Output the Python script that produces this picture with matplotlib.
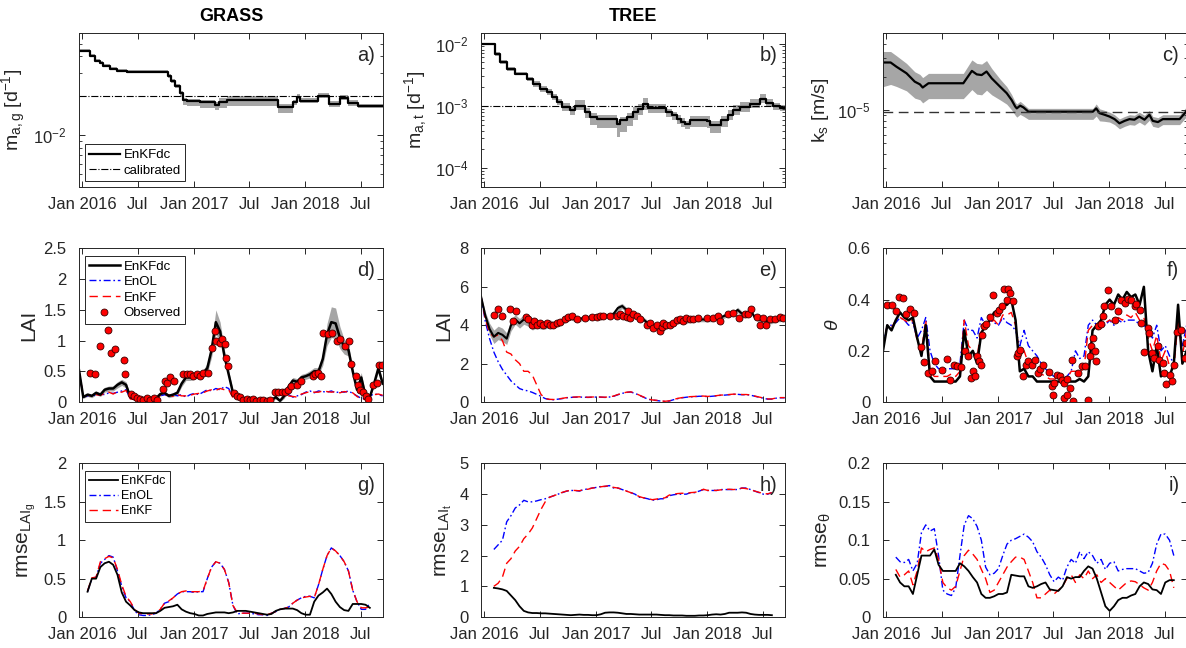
import numpy as np
import pandas as pd
import matplotlib
matplotlib.use('Agg')
import matplotlib.pyplot as plt
from matplotlib.ticker import FuncFormatter, LogLocator, NullFormatter
from matplotlib.lines import Line2D

plt.rcParams['font.family'] = ['Liberation Sans', 'DejaVu Sans']
plt.rcParams['mathtext.fontset'] = 'custom'
plt.rcParams['mathtext.rm'] = 'Liberation Sans'
plt.rcParams['mathtext.it'] = 'Liberation Sans:italic'
plt.rcParams['mathtext.bf'] = 'Liberation Sans:bold'

nan = np.nan

# ---------------- data ----------------
# 14-day grid used by the LAI / theta / rmse series
grid = pd.date_range('2015-12-22', periods=72, freq='14D')

# a) grass mortality parameter (step series)
ma_g_dates = ['2015-12-22', '2016-01-27', '2016-02-12', '2016-02-28', '2016-03-10', '2016-04-02',
              '2016-04-25', '2016-05-28', '2016-10-08', '2016-10-18', '2016-11-01', '2016-11-17',
              '2016-11-27', '2016-12-10', '2017-01-21', '2017-03-12', '2017-03-25', '2017-04-18',
              '2017-10-05', '2017-11-22', '2017-12-03', '2017-12-16', '2018-02-10', '2018-03-18',
              '2018-04-26', '2018-05-22', '2018-06-22', '2018-09-12']
ma_g_vals = [0.0443, 0.0405, 0.0371, 0.0358, 0.0340, 0.0322, 0.0310, 0.0305, 0.0284, 0.0260,
             0.0238, 0.0210, 0.0186, 0.0183, 0.0180, 0.0170, 0.0180, 0.0186, 0.0164, 0.0178,
             0.0196, 0.0183, 0.0200, 0.0173, 0.0193, 0.0176, 0.0167, 0.0167]
ma_g_hi = [0.012, 0.012, 0.012, 0.012, 0.012, 0.012, 0.012, 0.012, 0.015, 0.015, 0.015, 0.015,
           0.015, 0.015, 0.015, 0.02, 0.03, 0.03, 0.02, 0.02, 0.025, 0.02, 0.02, 0.02,
           0.02, 0.02, 0.015, 0.015]
ma_g_lo = [0.012, 0.012, 0.012, 0.012, 0.012, 0.012, 0.012, 0.012, 0.015, 0.015, 0.02, 0.03,
           0.04, 0.04, 0.045, 0.04, 0.05, 0.05, 0.045, 0.02, 0.02, 0.02, 0.02, 0.02,
           0.02, 0.02, 0.015, 0.015]
ma_g_cal = 0.02

# b) tree mortality parameter (step series)
ma_t_dates = ['2015-12-22', '2016-02-05', '2016-02-22', '2016-03-15', '2016-04-10', '2016-05-19',
              '2016-06-10', '2016-07-02', '2016-07-24', '2016-08-10', '2016-08-26', '2016-09-12',
              '2016-10-09', '2016-10-25', '2016-11-27', '2016-12-13', '2017-01-04', '2017-03-10',
              '2017-03-21', '2017-04-12', '2017-05-04', '2017-05-20', '2017-06-05', '2017-06-22',
              '2017-08-20', '2017-09-06', '2017-09-22', '2017-10-08', '2017-10-19', '2017-11-04',
              '2017-12-29', '2018-01-09', '2018-02-16', '2018-03-09', '2018-03-25', '2018-04-17',
              '2018-05-19', '2018-06-21', '2018-07-13', '2018-08-03', '2018-08-25', '2018-09-12']
ma_t_vals = [1.0e-2, 6.84e-3, 5.0e-3, 3.9e-3, 3.3e-3, 2.7e-3, 2.26e-3, 1.88e-3, 1.66e-3, 1.38e-3,
             1.15e-3, 9.6e-4, 8.5e-4, 1.0e-3, 7.96e-4, 6.6e-4, 6.2e-4, 5.06e-4, 5.86e-4, 6.6e-4,
             7.96e-4, 9.0e-4, 1.07e-3, 9.3e-4, 7.96e-4, 7.05e-4, 6.2e-4, 5.5e-4, 5.06e-4, 5.86e-4,
             5.75e-4, 4.88e-4, 5.86e-4, 7.05e-4, 8.5e-4, 9.6e-4, 1.08e-3, 1.3e-3, 1.11e-3, 9.8e-4,
             9.35e-4, 9.35e-4]
ma_t_hi = [0.01, 0.03, 0.03, 0.03, 0.03, 0.03, 0.05, 0.05, 0.05, 0.05, 0.05, 0.06,
           0.06, 0.1, 0.06, 0.06, 0.06, 0.06, 0.06, 0.06, 0.08, 0.08, 0.1, 0.06,
           0.05, 0.05, 0.06, 0.06, 0.06, 0.07, 0.07, 0.07, 0.07, 0.08, 0.08, 0.08,
           0.08, 0.07, 0.06, 0.05, 0.05, 0.05]
ma_t_lo = [0.01, 0.03, 0.03, 0.03, 0.03, 0.03, 0.05, 0.05, 0.05, 0.05, 0.05, 0.06,
           0.08, 0.06, 0.1, 0.12, 0.15, 0.2, 0.18, 0.15, 0.12, 0.1, 0.1, 0.08,
           0.08, 0.08, 0.08, 0.08, 0.08, 0.1, 0.12, 0.12, 0.1, 0.08, 0.08, 0.08,
           0.06, 0.06, 0.06, 0.05, 0.05, 0.05]
ma_t_cal = 1.0e-3

# c) saturated conductivity
ks_dates = ['2015-12-22', '2016-01-16', '2016-02-04', '2016-03-08', '2016-04-04', '2016-04-21',
            '2016-04-30', '2016-05-19', '2016-09-10', '2016-10-08', '2016-10-24', '2016-11-09',
            '2016-11-25', '2016-12-12', '2017-01-08', '2017-01-30', '2017-02-15', '2017-02-27',
            '2017-03-04', '2017-03-15', '2017-03-26', '2017-04-11', '2017-11-08', '2017-11-19',
            '2017-11-30', '2017-12-16', '2018-01-02', '2018-01-18', '2018-02-03', '2018-02-20',
            '2018-03-08', '2018-03-24', '2018-04-09', '2018-04-26', '2018-05-12', '2018-05-23',
            '2018-06-09', '2018-06-25', '2018-08-19', '2018-09-12']
ks_vals = [2.72e-5, 2.72e-5, 2.49e-5, 2.17e-5, 1.82e-5, 1.72e-5, 1.61e-5, 1.76e-5, 1.76e-5, 2.28e-5,
           2.12e-5, 2.09e-5, 2.25e-5, 1.95e-5, 1.64e-5, 1.43e-5, 1.24e-5, 1.08e-5, 1.04e-5, 1.10e-5,
           1.06e-5, 9.7e-6, 9.7e-6, 1.04e-5, 9.4e-6, 9.1e-6, 8.75e-6, 8.3e-6, 7.6e-6, 8.0e-6,
           8.3e-6, 8.2e-6, 8.75e-6, 8.2e-6, 9.1e-6, 8.0e-6, 7.8e-6, 8.3e-6, 8.3e-6, 9.9e-6]
ks_hi = [0.1, 0.1, 0.1, 0.09, 0.09, 0.09, 0.09, 0.09, 0.09, 0.1, 0.1, 0.1,
         0.1, 0.09, 0.07, 0.06, 0.05, 0.04, 0.04, 0.04, 0.03, 0.03, 0.03, 0.04,
         0.04, 0.04, 0.04, 0.04, 0.04, 0.04, 0.04, 0.04, 0.04, 0.04, 0.04, 0.04,
         0.04, 0.04, 0.04, 0.04]
ks_lo = [0.22, 0.2, 0.18, 0.16, 0.15, 0.14, 0.14, 0.14, 0.14, 0.17, 0.18, 0.18,
         0.17, 0.15, 0.12, 0.1, 0.09, 0.08, 0.08, 0.08, 0.08, 0.07, 0.07, 0.07,
         0.07, 0.06, 0.05, 0.05, 0.05, 0.05, 0.05, 0.05, 0.05, 0.05, 0.05, 0.05,
         0.05, 0.05, 0.05, 0.05]
ks_cal = 9.6e-6

# d) grass LAI
lai_g_enkfdc = [0.52, 0.08, 0.12, 0.10, 0.15, 0.12, 0.20, 0.22, 0.22, 0.28, 0.32, 0.28,
                0.08, 0.05, 0.04, 0.04, 0.04, 0.05, 0.06, 0.13, 0.15, 0.10, 0.12, 0.15,
                0.30, 0.40, 0.40, 0.42, 0.45, 0.47, 0.55, 0.85, 1.30, 1.15, 0.75, 0.45,
                0.15, 0.08, 0.06, 0.05, 0.04, 0.04, 0.03, 0.03, 0.02, 0.03, 0.08, 0.02,
                0.10, 0.25, 0.35, 0.33, 0.40, 0.42, 0.45, 0.50, 0.50, 0.70, 1.10, 1.30,
                1.28, 1.05, 0.90, 0.85, 0.50, 0.20, 0.40, 0.10, 0.08, 0.30, 0.55, 0.30]
lai_g_spread = [0.03, 0.02, 0.03, 0.03, 0.03, 0.03, 0.04, 0.04, 0.04, 0.05, 0.05, 0.05,
                0.03, 0.02, 0.02, 0.02, 0.02, 0.02, 0.02, 0.03, 0.03, 0.03, 0.03, 0.04,
                0.05, 0.05, 0.05, 0.05, 0.05, 0.05, 0.08, 0.12, 0.20, 0.15, 0.10, 0.06,
                0.04, 0.02, 0.02, 0.02, 0.02, 0.02, 0.02, 0.02, 0.02, 0.02, 0.03, 0.02,
                0.04, 0.05, 0.05, 0.05, 0.05, 0.05, 0.06, 0.06, 0.06, 0.10, 0.18, 0.25,
                0.25, 0.18, 0.12, 0.10, 0.06, 0.05, 0.08, 0.03, 0.02, 0.04, 0.06, 0.05]
lai_g_enol = [0.52, 0.08, 0.10, 0.12, 0.10, 0.13, 0.12, 0.15, 0.14, 0.16, 0.18, 0.20,
              0.06, 0.05, 0.05, 0.05, 0.05, 0.05, 0.06, 0.10, 0.12, 0.10, 0.13, 0.10,
              0.12, 0.08, 0.12, 0.14, 0.12, 0.16, 0.20, 0.18, 0.22, 0.20, 0.25, 0.22,
              0.08, 0.06, 0.05, 0.05, 0.04, 0.03, 0.03, 0.02, 0.03, 0.04, 0.12, 0.13,
              0.10, 0.12, 0.08, 0.10, 0.12, 0.16, 0.18, 0.15, 0.18, 0.17, 0.16, 0.18,
              0.15, 0.17, 0.16, 0.18, 0.14, 0.10, 0.06, 0.05, 0.10, 0.13, 0.12, 0.10]
lai_g_enkf = [0.52, 0.09, 0.11, 0.10, 0.12, 0.11, 0.14, 0.16, 0.13, 0.17, 0.16, 0.19,
              0.05, 0.04, 0.05, 0.04, 0.05, 0.04, 0.05, 0.11, 0.10, 0.12, 0.09, 0.12,
              0.10, 0.10, 0.11, 0.13, 0.14, 0.15, 0.18, 0.20, 0.19, 0.22, 0.20, 0.20,
              0.07, 0.05, 0.06, 0.04, 0.04, 0.03, 0.02, 0.03, 0.02, 0.05, 0.10, 0.12,
              0.11, 0.10, 0.09, 0.08, 0.13, 0.15, 0.17, 0.16, 0.16, 0.18, 0.17, 0.16,
              0.17, 0.15, 0.17, 0.16, 0.15, 0.09, 0.05, 0.04, 0.09, 0.12, 0.13, 0.11]
obs_g_dates = ['2016-01-27', '2016-02-12', '2016-02-29', '2016-03-27', '2016-04-04', '2016-04-18',
               '2016-05-16', '2016-05-21', '2016-06-10', '2016-06-18', '2016-06-29', '2016-07-09',
               '2016-07-20', '2016-07-31', '2016-08-11', '2016-08-22', '2016-09-02', '2016-09-23',
               '2016-09-29', '2016-10-04', '2016-10-15', '2016-10-28', '2016-11-27', '2016-12-08',
               '2016-12-19', '2016-12-30', '2017-01-10', '2017-01-21', '2017-02-01', '2017-02-17',
               '2017-02-28', '2017-03-11', '2017-03-14', '2017-03-27', '2017-04-02', '2017-04-13',
               '2017-04-16', '2017-04-24', '2017-05-11', '2017-05-21', '2017-06-01', '2017-06-12',
               '2017-06-23', '2017-07-03', '2017-07-14', '2017-07-25', '2017-08-05', '2017-08-16',
               '2017-08-27', '2017-09-07', '2017-09-23', '2017-10-04', '2017-10-15', '2017-10-26',
               '2017-11-05', '2017-11-16', '2017-12-03', '2017-12-19', '2018-01-26', '2018-02-01',
               '2018-02-12', '2018-02-22', '2018-02-28', '2018-03-16', '2018-03-30', '2018-04-14',
               '2018-04-23', '2018-05-10', '2018-05-24', '2018-06-01', '2018-06-15', '2018-06-22',
               '2018-06-28', '2018-07-09', '2018-07-20', '2018-07-25', '2018-08-11', '2018-08-22',
               '2018-08-31', '2018-09-08']
obs_g_vals = [0.48, 0.45, 0.91, 1.17, 0.79, 0.86, 0.69, 0.46, 0.13, 0.09, 0.07, 0.05,
              0.04, 0.06, 0.04, 0.06, 0.03, 0.22, 0.35, 0.31, 0.40, 0.35, 0.46, 0.45,
              0.45, 0.43, 0.45, 0.43, 0.47, 0.47, 0.88, 1.15, 0.99, 0.96, 1.02, 0.95,
              0.72, 0.58, 0.15, 0.10, 0.08, 0.04, 0.05, 0.03, 0.05, 0.02, 0.03, 0.04,
              0.02, 0.04, 0.17, 0.16, 0.16, 0.17, 0.20, 0.26, 0.28, 0.35, 0.42, 0.45,
              0.47, 0.42, 1.12, 1.11, 1.12, 0.99, 1.02, 0.91, 0.99, 0.62, 0.42, 0.28,
              0.20, 0.16, 0.09, 0.05, 0.28, 0.31, 0.60, 0.60]

# e) tree LAI
lai_t_enkfdc = [5.5, 4.5, 3.8, 3.4, 3.6, 3.5, 3.3, 4.0, 4.3, 4.1, 4.3, 4.2,
                4.0, 4.1, 4.0, 4.0, 4.1, 4.0, 4.1, 4.2, 4.3, 4.4, 4.3, 4.3,
                4.4, 4.4, 4.4, 4.5, 4.4, 4.5, 4.5, 4.6, 4.9, 5.0, 4.8, 4.6,
                4.5, 4.4, 4.3, 4.1, 4.0, 3.9, 3.8, 3.9, 4.0, 4.1, 4.2, 4.2,
                4.2, 4.3, 4.3, 4.3, 4.3, 4.3, 4.3, 4.4, 4.4, 4.5, 4.6, 4.6,
                4.8, 4.6, 4.6, 4.8, 4.4, 4.3, 4.3, 4.2, 4.2, 4.3, 4.3, 4.4]
lai_t_spread = [0.05, 0.2, 0.3, 0.35, 0.35, 0.35, 0.3, 0.3, 0.25, 0.25, 0.25, 0.25,
                0.25, 0.25, 0.2, 0.2, 0.2, 0.18, 0.15, 0.15, 0.12, 0.12, 0.12, 0.12,
                0.12, 0.12, 0.12, 0.12, 0.12, 0.12, 0.12, 0.12, 0.14, 0.14, 0.12, 0.12,
                0.12, 0.12, 0.12, 0.14, 0.14, 0.15, 0.15, 0.14, 0.12, 0.12, 0.12, 0.12,
                0.12, 0.12, 0.12, 0.12, 0.12, 0.12, 0.12, 0.12, 0.12, 0.12, 0.12, 0.12,
                0.14, 0.12, 0.12, 0.14, 0.12, 0.12, 0.12, 0.12, 0.12, 0.12, 0.12, 0.12]
lai_t_enol = [5.5, 4.2, 3.3, 2.6, 2.1, 1.7, 1.4, 1.1, 0.9, 0.7, 0.62, 0.58,
              0.5, 0.4, 0.3, 0.18, 0.13, 0.12, 0.15, 0.18, 0.22, 0.24, 0.25, 0.26,
              0.25, 0.24, 0.25, 0.26, 0.25, 0.24, 0.26, 0.3, 0.38, 0.45, 0.5, 0.52,
              0.45, 0.35, 0.25, 0.15, 0.1, 0.08, 0.05, 0.03, 0.05, 0.12, 0.18, 0.22,
              0.25, 0.27, 0.28, 0.3, 0.3, 0.28, 0.3, 0.32, 0.35, 0.36, 0.38, 0.4,
              0.4, 0.38, 0.38, 0.36, 0.3, 0.25, 0.2, 0.15, 0.15, 0.2, 0.22, 0.22]
lai_t_enkf = [5.5, 4.3, 3.6, 3.4, 3.5, 3.2, 2.6, 2.5, 2.2, 2.0, 1.6, 1.6,
              1.4, 0.9, 0.4, 0.18, 0.14, 0.13, 0.16, 0.19, 0.23, 0.25, 0.26, 0.27,
              0.26, 0.25, 0.26, 0.27, 0.26, 0.25, 0.27, 0.31, 0.39, 0.46, 0.51, 0.53,
              0.46, 0.36, 0.26, 0.16, 0.11, 0.09, 0.06, 0.04, 0.06, 0.13, 0.19, 0.23,
              0.26, 0.28, 0.29, 0.31, 0.31, 0.29, 0.31, 0.33, 0.36, 0.37, 0.39, 0.41,
              0.41, 0.39, 0.39, 0.37, 0.31, 0.26, 0.21, 0.16, 0.16, 0.21, 0.23, 0.23]
obs_t_dates = ['2016-02-04', '2016-02-17', '2016-03-01', '2016-03-26', '2016-04-04', '2016-04-15',
               '2016-05-18', '2016-05-23', '2016-06-05', '2016-06-11', '2016-06-22', '2016-07-02',
               '2016-07-13', '2016-07-24', '2016-08-04', '2016-08-15', '2016-08-26', '2016-09-06',
               '2016-09-22', '2016-10-03', '2016-10-14', '2016-10-30', '2016-11-27', '2016-12-18',
               '2017-01-03', '2017-01-14', '2017-01-25', '2017-02-16', '2017-03-10', '2017-03-21',
               '2017-04-01', '2017-04-12', '2017-04-17', '2017-04-23', '2017-05-04', '2017-05-15',
               '2017-05-25', '2017-06-16', '2017-06-27', '2017-07-08', '2017-07-19', '2017-07-30',
               '2017-08-04', '2017-08-10', '2017-08-20', '2017-08-31', '2017-09-11', '2017-09-22',
               '2017-10-03', '2017-10-13', '2017-10-24', '2017-11-04', '2017-11-15', '2017-12-01',
               '2017-12-29', '2018-01-20', '2018-02-05', '2018-02-10', '2018-03-09', '2018-03-25',
               '2018-04-16', '2018-05-03', '2018-05-14', '2018-05-25', '2018-06-11', '2018-06-22',
               '2018-07-03', '2018-07-13', '2018-07-24', '2018-08-09', '2018-08-25', '2018-09-06']
obs_t_vals = [4.54, 4.82, 4.50, 4.85, 4.20, 4.73, 4.43, 4.30, 4.03, 4.20, 4.00, 4.12,
              4.03, 4.12, 4.00, 4.03, 4.12, 4.15, 4.33, 4.43, 4.50, 4.30, 4.38, 4.43,
              4.43, 4.50, 4.47, 4.50, 4.47, 4.56, 4.50, 4.43, 4.73, 4.38, 4.60, 4.47,
              4.33, 4.03, 4.12, 3.86, 4.00, 3.69, 3.90, 4.12, 4.00, 4.03, 4.12, 4.26,
              4.30, 4.20, 4.38, 4.30, 4.33, 4.38, 4.38, 4.38, 4.47, 4.20, 4.60, 4.64,
              4.38, 4.56, 4.60, 4.85, 4.43, 4.03, 4.38, 4.00, 4.30, 4.33, 4.43, 4.38]

# f) soil moisture
sm_enkfdc = [0.20, 0.30, 0.28, 0.32, 0.35, 0.33, 0.32, 0.33, 0.25, 0.18, 0.30, 0.10,
             0.08, 0.08, 0.08, 0.08, 0.08, 0.08, 0.10, 0.28, 0.18, 0.20, 0.15, 0.27,
             0.30, 0.32, 0.35, 0.36, 0.38, 0.38, 0.40, 0.32, 0.12, 0.13, 0.10, 0.10,
             0.08, 0.08, 0.08, 0.08, 0.08, 0.08, 0.08, 0.08, 0.08, 0.08, 0.09, 0.08,
             0.10, 0.28, 0.30, 0.32, 0.38, 0.40, 0.38, 0.42, 0.40, 0.43, 0.41, 0.42,
             0.38, 0.45, 0.20, 0.12, 0.22, 0.10, 0.12, 0.10, 0.15, 0.38, 0.15, 0.20]
sm_enol = [0.22, 0.30, 0.30, 0.31, 0.33, 0.32, 0.30, 0.31, 0.25, 0.28, 0.33, 0.20,
           0.15, 0.13, 0.13, 0.13, 0.13, 0.13, 0.15, 0.32, 0.28, 0.28, 0.25, 0.33,
           0.30, 0.32, 0.31, 0.30, 0.33, 0.31, 0.30, 0.28, 0.22, 0.28, 0.22, 0.20,
           0.18, 0.15, 0.13, 0.11, 0.10, 0.10, 0.09, 0.10, 0.12, 0.20, 0.17, 0.18,
           0.30, 0.32, 0.30, 0.30, 0.30, 0.32, 0.30, 0.32, 0.31, 0.32, 0.32, 0.32,
           0.30, 0.30, 0.28, 0.25, 0.30, 0.20, 0.22, 0.18, 0.15, 0.33, 0.22, 0.30]
sm_enkf = [0.22, 0.30, 0.29, 0.32, 0.33, 0.32, 0.31, 0.32, 0.24, 0.20, 0.32, 0.12,
           0.10, 0.10, 0.10, 0.10, 0.11, 0.10, 0.12, 0.32, 0.22, 0.20, 0.17, 0.30,
           0.30, 0.31, 0.32, 0.30, 0.34, 0.34, 0.35, 0.30, 0.18, 0.20, 0.15, 0.14,
           0.13, 0.11, 0.10, 0.09, 0.09, 0.09, 0.08, 0.09, 0.12, 0.12, 0.12, 0.13,
           0.28, 0.30, 0.30, 0.32, 0.31, 0.32, 0.31, 0.33, 0.32, 0.34, 0.33, 0.35,
           0.32, 0.33, 0.25, 0.20, 0.26, 0.16, 0.20, 0.14, 0.13, 0.32, 0.18, 0.28]
obs_sm_dates = ['2016-01-05', '2016-01-19', '2016-02-02', '2016-02-12', '2016-02-24', '2016-03-06',
                '2016-03-19', '2016-04-01', '2016-04-23', '2016-05-05', '2016-05-18', '2016-05-29',
                '2016-06-09', '2016-07-03', '2016-07-17', '2016-07-28', '2016-08-10', '2016-08-21',
                '2016-09-04', '2016-09-16', '2016-09-24', '2016-10-05', '2016-10-13', '2016-10-18',
                '2016-10-24', '2016-11-01', '2016-11-06', '2016-11-09', '2016-11-16', '2016-11-23',
                '2016-12-06', '2016-12-17', '2016-12-28', '2017-01-06', '2017-01-13', '2017-01-21',
                '2017-01-30', '2017-02-04', '2017-02-10', '2017-02-21', '2017-03-04', '2017-03-09',
                '2017-03-15', '2017-03-24', '2017-04-04', '2017-04-11', '2017-04-22', '2017-05-03',
                '2017-05-11', '2017-05-19', '2017-05-30', '2017-06-16', '2017-06-27', '2017-06-29',
                '2017-07-04', '2017-07-13', '2017-07-24', '2017-07-29', '2017-08-04', '2017-08-07',
                '2017-08-15', '2017-08-17', '2017-08-25', '2017-08-31', '2017-09-05', '2017-09-21',
                '2017-10-02', '2017-10-13', '2017-10-23', '2017-10-29', '2017-11-03', '2017-11-08',
                '2017-11-14', '2017-11-19', '2017-11-25', '2017-12-06', '2017-12-11', '2017-12-16',
                '2017-12-27', '2018-01-08', '2018-01-18', '2018-01-29', '2018-02-09', '2018-02-20',
                '2018-03-03', '2018-03-14', '2018-03-25', '2018-03-30', '2018-04-10', '2018-04-15',
                '2018-04-26', '2018-05-07', '2018-05-12', '2018-05-21', '2018-05-28', '2018-06-08',
                '2018-06-14', '2018-06-25', '2018-06-30', '2018-07-06', '2018-07-17', '2018-07-25',
                '2018-08-02', '2018-08-11', '2018-08-22', '2018-09-04', '2018-09-08']
obs_sm_vals = [0.378, 0.378, 0.355, 0.410, 0.406, 0.342, 0.364, 0.346, 0.214, 0.157, 0.113, 0.123,
               0.159, 0.127, 0.170, 0.085, 0.143, 0.140, 0.137, 0.198, 0.179, 0.094, 0.120, 0.100,
               0.179, 0.159, 0.146, 0.263, 0.296, 0.303, 0.331, 0.417, 0.346, 0.361, 0.374, 0.443,
               0.400, 0.443, 0.427, 0.394, 0.179, 0.192, 0.205, 0.100, 0.146, 0.159, 0.146, 0.163,
               0.113, 0.129, 0.146, 0.117, 0.064, 0.029, 0.074, 0.107, 0.100, 0.085, 0.016, 0.074,
               0.090, 0.026, 0.055, 0.163, 0.005, 0.113, 0.140, 0.140, 0.009, 0.179, 0.218, 0.250,
               0.198, 0.159, 0.296, 0.303, 0.335, 0.374, 0.436, 0.374, 0.322, 0.355, 0.400, 0.387,
               0.403, 0.400, 0.374, 0.383, 0.361, 0.309, 0.194, 0.290, 0.270, 0.192, 0.172, 0.218,
               0.166, 0.153, 0.113, 0.072, 0.107, 0.081, 0.146, 0.273, 0.283, 0.172, 0.230]

# g) rmse grass LAI
rmse_g_enkfdc = [nan, nan, 0.33, 0.50, 0.50, 0.65, 0.70, 0.72, 0.68, 0.55, 0.32, 0.20,
                 0.15, 0.09, 0.06, 0.05, 0.05, 0.05, 0.05, 0.08, 0.12, 0.13, 0.14, 0.16,
                 0.10, 0.07, 0.05, 0.04, 0.02, 0.02, 0.04, 0.05, 0.06, 0.06, 0.06, 0.05,
                 0.06, 0.08, 0.08, 0.08, 0.07, 0.06, 0.05, 0.04, 0.03, 0.04, 0.08, 0.10,
                 0.11, 0.11, 0.11, 0.09, 0.05, 0.03, 0.03, 0.20, 0.28, 0.32, 0.37, 0.30,
                 0.20, 0.13, 0.09, 0.08, 0.17, 0.17, 0.17, 0.16, 0.12, nan, nan, nan]
rmse_g_enol = [nan, nan, 0.33, 0.50, 0.52, 0.70, 0.75, 0.80, 0.78, 0.60, 0.40, 0.25,
               0.20, 0.08, 0.03, 0.02, 0.02, 0.03, 0.05, 0.10, 0.18, 0.20, 0.25, 0.30,
               0.33, 0.33, 0.33, 0.32, 0.33, 0.33, 0.50, 0.65, 0.72, 0.70, 0.62, 0.45,
               0.15, 0.04, 0.05, 0.05, 0.05, 0.04, 0.03, 0.03, 0.02, 0.05, 0.07, 0.10,
               0.11, 0.13, 0.18, 0.22, 0.25, 0.27, 0.27, 0.25, 0.42, 0.62, 0.80, 0.90,
               0.86, 0.80, 0.72, 0.60, 0.35, 0.20, 0.10, 0.10, 0.18, nan, nan, nan]
rmse_g_enkf = [nan, nan, 0.34, 0.51, 0.52, 0.72, 0.76, 0.79, 0.77, 0.62, 0.42, 0.27,
               0.20, 0.10, 0.05, 0.04, 0.04, 0.04, 0.06, 0.10, 0.18, 0.21, 0.25, 0.30,
               0.33, 0.34, 0.33, 0.33, 0.33, 0.34, 0.50, 0.65, 0.72, 0.70, 0.62, 0.45,
               0.15, 0.06, 0.05, 0.05, 0.05, 0.05, 0.04, 0.03, 0.03, 0.05, 0.07, 0.10,
               0.11, 0.13, 0.18, 0.22, 0.25, 0.26, 0.27, 0.25, 0.42, 0.62, 0.80, 0.90,
               0.86, 0.80, 0.72, 0.60, 0.35, 0.20, 0.12, 0.12, 0.13, nan, nan, nan]

# h) rmse tree LAI
rmse_t_enkfdc = [nan, nan, nan, 0.95, 0.93, 0.90, 0.85, 0.70, 0.55, 0.35, 0.20, 0.15,
                 0.13, 0.13, 0.12, 0.12, 0.11, 0.10, 0.09, 0.08, 0.07, 0.06, 0.07, 0.08,
                 0.07, 0.07, 0.06, 0.06, 0.09, 0.14, 0.15, 0.15, 0.14, 0.12, 0.10, 0.10,
                 0.09, 0.08, 0.08, 0.08, 0.08, 0.08, 0.07, 0.06, 0.06, 0.05, 0.05, 0.05,
                 0.04, 0.04, 0.04, 0.05, 0.05, 0.06, 0.08, 0.09, 0.08, 0.10, 0.14, 0.14,
                 0.14, 0.15, 0.14, 0.10, 0.08, 0.07, 0.07, 0.07, 0.06, nan, nan, nan]
rmse_t_enol = [nan, nan, nan, 2.20, 2.35, 2.50, 3.10, 3.30, 3.55, 3.65, 3.80, 3.75,
               3.75, 3.78, 3.82, 3.85, 3.90, 3.95, 4.00, 4.05, 4.10, 4.12, 4.12, 4.10,
               4.15, 4.17, 4.20, 4.22, 4.25, 4.25, 4.28, 4.20, 4.20, 4.15, 4.10, 4.05,
               4.00, 3.90, 3.88, 3.85, 3.80, 3.82, 3.85, 3.85, 3.95, 3.98, 4.00, 4.00,
               4.00, 4.05, 4.05, 4.10, 4.15, 4.12, 4.12, 4.12, 4.15, 4.15, 4.15, 4.15,
               4.15, 4.20, 4.20, 4.15, 4.10, 4.05, 4.00, 4.00, 4.05, nan, nan, nan]
rmse_t_enkf = [nan, nan, nan, 1.00, 1.10, 1.30, 1.75, 1.90, 2.15, 2.30, 2.55, 2.70,
               2.90, 3.20, 3.50, 3.75, 3.90, 3.95, 4.00, 4.06, 4.10, 4.13, 4.12, 4.11,
               4.15, 4.16, 4.20, 4.22, 4.24, 4.26, 4.27, 4.22, 4.20, 4.16, 4.10, 4.05,
               4.00, 3.92, 3.88, 3.86, 3.82, 3.84, 3.86, 3.88, 3.97, 4.00, 4.02, 4.03,
               4.02, 4.05, 4.06, 4.10, 4.16, 4.12, 4.13, 4.12, 4.14, 4.15, 4.16, 4.15,
               4.16, 4.20, 4.18, 4.15, 4.10, 4.06, 4.02, 4.01, 4.05, nan, nan, nan]

# i) rmse soil moisture
rmse_sm_enkfdc = [nan, nan, nan, 0.055, 0.045, 0.040, 0.040, 0.030, 0.055, 0.080, 0.080, 0.080,
                  0.088, 0.068, 0.060, 0.060, 0.060, 0.060, 0.070, 0.066, 0.060, 0.052, 0.045, 0.030,
                  0.025, 0.025, 0.027, 0.030, 0.030, 0.032, 0.055, 0.054, 0.053, 0.053, 0.040, 0.038,
                  0.040, 0.043, 0.045, 0.036, 0.035, 0.034, 0.040, 0.052, 0.050, 0.052, 0.052, 0.060,
                  0.066, 0.063, 0.050, 0.032, 0.014, 0.008, 0.014, 0.022, 0.025, 0.025, 0.028, 0.030,
                  0.040, 0.045, 0.043, 0.036, 0.035, 0.030, 0.045, 0.048, 0.048, nan, nan, nan]
rmse_sm_enol = [nan, nan, nan, 0.078, 0.072, 0.071, 0.075, 0.060, 0.070, 0.110, 0.120, 0.112,
                0.115, 0.080, 0.035, 0.030, 0.028, 0.038, 0.080, 0.120, 0.132, 0.128, 0.118, 0.100,
                0.065, 0.055, 0.057, 0.063, 0.080, 0.095, 0.100, 0.102, 0.105, 0.108, 0.104, 0.098,
                0.085, 0.078, 0.068, 0.055, 0.046, 0.052, 0.048, 0.065, 0.075, 0.070, 0.085, 0.076,
                0.085, 0.080, 0.070, 0.075, 0.062, 0.070, 0.072, 0.060, 0.062, 0.063, 0.063, 0.063,
                0.060, 0.057, 0.058, 0.070, 0.095, 0.108, 0.108, 0.100, 0.080, nan, nan, nan]
rmse_sm_enkf = [nan, nan, nan, 0.062, 0.052, 0.055, 0.060, 0.042, 0.060, 0.090, 0.085, 0.088,
                0.090, 0.075, 0.045, 0.038, 0.035, 0.040, 0.060, 0.080, 0.087, 0.082, 0.075, 0.062,
                0.050, 0.032, 0.035, 0.045, 0.055, 0.065, 0.072, 0.078, 0.078, 0.075, 0.060, 0.045,
                0.025, 0.025, 0.030, 0.035, 0.030, 0.035, 0.040, 0.050, 0.055, 0.045, 0.055, 0.050,
                0.060, 0.050, 0.055, 0.045, 0.050, 0.045, 0.040, 0.035, 0.040, 0.045, 0.047, 0.046,
                0.042, 0.038, 0.035, 0.045, 0.060, 0.070, 0.068, 0.060, 0.038, nan, nan, nan]

xtick_dates = ['2016-01-01', '2016-07-01', '2017-01-01', '2017-07-01', '2018-01-01', '2018-07-01']
xtick_labels = ['Jan 2016', 'Jul', 'Jan 2017', 'Jul', 'Jan 2018', 'Jul']

# ---------------- styling ----------------
INK = '#262626'
BAND = '#a6a6a6'
BLUE = '#0000ff'
RED = '#ff0000'
DASH_BLUE = (5, 2, 1.2, 2)
DASH_RED = (6, 3.5)
MS = 5

fig = plt.figure(figsize=(11.86, 6.48), dpi=100)
lefts = [0.0666, 0.4056, 0.7445]
bottoms = [0.7114, 0.3796, 0.0478]
W, H = 0.2563, 0.2370
axs = [[fig.add_axes([l, b, W, H]) for l in lefts] for b in bottoms]


def style(ax, label):
    ax.set_xlim(pd.Timestamp('2015-12-22'), pd.Timestamp('2018-09-12'))
    ax.set_xticks(pd.to_datetime(xtick_dates))
    ax.set_xticklabels(xtick_labels)
    ax.tick_params(which='both', direction='in', top=True, right=True, colors=INK, labelsize=12)
    ax.tick_params(axis='x', which='major', pad=7)
    ax.tick_params(axis='y', which='major', pad=9)
    ax.tick_params(which='major', length=4, width=0.7)
    ax.tick_params(which='minor', length=2, width=0.6)
    for s in ax.spines.values():
        s.set_color(INK)
        s.set_linewidth(0.7)
    ax.text(0.975, 0.855, label, transform=ax.transAxes, ha='right', va='center',
            fontsize=14.5, color=INK)


def lin_y(ax, ticks):
    ax.set_ylim(ticks[0], ticks[-1])
    ax.set_yticks(ticks)
    ax.yaxis.set_major_formatter(FuncFormatter(lambda v, p: '%g' % v))


def log_y(ax, lo, hi):
    ax.set_yscale('log')
    ax.set_ylim(lo, hi)
    ax.yaxis.set_major_locator(LogLocator(base=10, numticks=10))
    ax.yaxis.set_minor_locator(LogLocator(base=10, subs=np.arange(2, 10), numticks=20))
    ax.yaxis.set_minor_formatter(NullFormatter())


def legend(ax, handles, loc, anchor, size):
    lg = ax.legend(handles=handles, loc=loc, bbox_to_anchor=anchor, fontsize=size,
                   frameon=True, fancybox=False, framealpha=1, edgecolor=INK,
                   handlelength=2.3, handletextpad=0.3, labelspacing=0.25,
                   borderpad=0.35, borderaxespad=0.2)
    lg.get_frame().set_linewidth(0.7)


# ---- a) ----
ax = axs[0][0]
t = pd.to_datetime(ma_g_dates)
v = np.array(ma_g_vals)
ax.fill_between(t, v / 10 ** np.array(ma_g_lo), v * 10 ** np.array(ma_g_hi), step='post',
                color=BAND, lw=0)
ax.step(t, v, where='post', color='k', lw=1.6)
ax.axhline(ma_g_cal, color='k', lw=0.8, ls='-.')
log_y(ax, 0.004, 0.06)
style(ax, 'a)')
ax.set_ylabel(r'$\mathregular{m_{a,g}\ [d^{-1}]}$', fontsize=14, color=INK)
ax.set_title('GRASS', fontsize=13, fontweight='bold', pad=9, color='k')
legend(ax, [Line2D([], [], color='k', lw=1.6, label='EnKFdc'),
            Line2D([], [], color='k', lw=0.8, ls='-.', label='calibrated')],
       'lower left', (0.01, 0.02), 9.5)

# ---- b) ----
ax = axs[0][1]
t = pd.to_datetime(ma_t_dates)
v = np.array(ma_t_vals)
ax.fill_between(t, v / 10 ** np.array(ma_t_lo), v * 10 ** np.array(ma_t_hi), step='post',
                color=BAND, lw=0)
ax.step(t, v, where='post', color='k', lw=1.6)
ax.axhline(ma_t_cal, color='k', lw=0.8, ls='-.')
log_y(ax, 5e-5, 1.45e-2)
style(ax, 'b)')
ax.set_ylabel(r'$\mathregular{m_{a,t}\ [d^{-1}]}$', fontsize=14, color=INK)
ax.set_title('TREE', fontsize=13, fontweight='bold', pad=9, color='k')

# ---- c) ----
ax = axs[0][2]
t = pd.to_datetime(ks_dates)
v = np.array(ks_vals)
ax.fill_between(t, v / 10 ** np.array(ks_lo), v * 10 ** np.array(ks_hi), color=BAND, lw=0)
ax.plot(t, v, color='k', lw=1.6)
ax.axhline(ks_cal, color='#333333', lw=1.0, dashes=(7, 4))
log_y(ax, 2e-6, 5e-5)
style(ax, 'c)')
ax.set_ylabel(r'$\mathregular{k_s\ [m/s]}$', fontsize=14, color=INK)

# ---- d) ----
ax = axs[1][0]
c = np.array(lai_g_enkfdc)
s = np.array(lai_g_spread)
ax.fill_between(grid, c - s, c + s, color=BAND, lw=0)
ax.plot(grid, lai_g_enol, color=BLUE, lw=1.0, dashes=DASH_BLUE)
ax.plot(grid, lai_g_enkf, color=RED, lw=1.0, dashes=DASH_RED)
ax.plot(grid, c, color='k', lw=1.8)
ax.plot(pd.to_datetime(obs_g_dates), obs_g_vals, 'o', ms=MS, mfc=RED, mec='#3a0000', mew=0.6)
lin_y(ax, [0, 0.5, 1, 1.5, 2, 2.5])
style(ax, 'd)')
ax.set_ylabel('LAI', fontsize=15, color=INK)
legend(ax, [Line2D([], [], color='k', lw=1.8, label='EnKFdc'),
            Line2D([], [], color=BLUE, lw=1.0, dashes=DASH_BLUE, label='EnOL'),
            Line2D([], [], color=RED, lw=1.0, dashes=DASH_RED, label='EnKF'),
            Line2D([], [], ls='none', marker='o', ms=MS, mfc=RED, mec='#3a0000', mew=0.6,
                   label='Observed')],
       'upper left', (0.01, 0.97), 9.5)

# ---- e) ----
ax = axs[1][1]
c = np.array(lai_t_enkfdc)
s = np.array(lai_t_spread)
ax.fill_between(grid, c - s, c + s, color=BAND, lw=0)
ax.plot(grid, lai_t_enol, color=BLUE, lw=1.0, dashes=DASH_BLUE)
ax.plot(grid, lai_t_enkf, color=RED, lw=1.0, dashes=DASH_RED)
ax.plot(grid, c, color='k', lw=1.5)
ax.plot(pd.to_datetime(obs_t_dates), obs_t_vals, 'o', ms=MS, mfc=RED, mec='#3a0000', mew=0.6)
lin_y(ax, [0, 2, 4, 6, 8])
style(ax, 'e)')
ax.set_ylabel('LAI', fontsize=15, color=INK)

# ---- f) ----
ax = axs[1][2]
ax.plot(grid, sm_enol, color=BLUE, lw=1.0, dashes=DASH_BLUE)
ax.plot(grid, sm_enkf, color=RED, lw=1.0, dashes=DASH_RED)
ax.plot(grid, sm_enkfdc, color='k', lw=1.8)
ax.plot(pd.to_datetime(obs_sm_dates), obs_sm_vals, 'o', ms=MS, mfc=RED, mec='#3a0000', mew=0.6)
lin_y(ax, [0, 0.2, 0.4, 0.6])
style(ax, 'f)')
ax.set_ylabel(r'$\theta$', fontsize=14, color=INK)

# ---- g) ----
ax = axs[2][0]
ax.plot(grid, rmse_g_enol, color=BLUE, lw=1.0, dashes=DASH_BLUE)
ax.plot(grid, rmse_g_enkf, color=RED, lw=1.0, dashes=DASH_RED)
ax.plot(grid, rmse_g_enkfdc, color='k', lw=1.3)
lin_y(ax, [0, 0.5, 1, 1.5, 2])
style(ax, 'g)')
ax.set_ylabel(r'$\mathregular{rmse_{LAI_g}}$', fontsize=15, color=INK)
legend(ax, [Line2D([], [], color='k', lw=1.3, label='EnKFdc'),
            Line2D([], [], color=BLUE, lw=1.0, dashes=DASH_BLUE, label='EnOL'),
            Line2D([], [], color=RED, lw=1.0, dashes=DASH_RED, label='EnKF')],
       'upper left', (0.01, 0.97), 9)

# ---- h) ----
ax = axs[2][1]
ax.plot(grid, rmse_t_enol, color=BLUE, lw=1.0, dashes=DASH_BLUE)
ax.plot(grid, rmse_t_enkf, color=RED, lw=1.0, dashes=DASH_RED)
ax.plot(grid, rmse_t_enkfdc, color='k', lw=1.3)
lin_y(ax, [0, 1, 2, 3, 4, 5])
style(ax, 'h)')
ax.set_ylabel(r'$\mathregular{rmse_{LAI_t}}$', fontsize=15, color=INK)

# ---- i) ----
ax = axs[2][2]
ax.plot(grid, rmse_sm_enol, color=BLUE, lw=1.0, dashes=DASH_BLUE)
ax.plot(grid, rmse_sm_enkf, color=RED, lw=1.0, dashes=DASH_RED)
ax.plot(grid, rmse_sm_enkfdc, color='k', lw=1.3)
lin_y(ax, [0, 0.05, 0.1, 0.15, 0.2])
style(ax, 'i)')
ax.set_ylabel(r'$\mathregular{rmse_{\theta}}$', fontsize=15, color=INK)

fig.savefig('out.png', dpi=100)
